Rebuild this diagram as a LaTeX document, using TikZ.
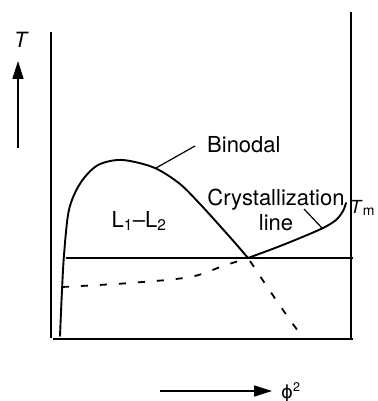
\documentclass[tikz,border=0pt]{standalone}
\usepackage{fontspec}
\setmainfont{TeX Gyre Heros}
\newfontfamily\dejavu{DejaVu Sans}
\usetikzlibrary{arrows.meta}
\begin{document}
\begin{tikzpicture}[x=1pt,y=-1pt,
  lbl/.style={font=\fontsize{22}{25}\selectfont, inner sep=0pt},
  curve/.style={line width=1.9pt, line join=round, line cap=round},
  axisline/.style={line width=1.5pt},
  level/.style={line width=2.4pt},
  dsh/.style={line width=1.8pt, dash pattern=on 7pt off 12pt},
  leader/.style={line width=1.2pt},
  bigarrow/.style={line width=1.5pt, -{Triangle[length=18pt,width=11pt]}}]
\useasboundingbox (0,0) rectangle (377,401);
% frame
\coordinate (lt) at (51,32);
\coordinate (lb) at (51,338);
\coordinate (rt) at (351,12);
\coordinate (rb) at (351,340);
\coordinate (bl) at (53,339);
\coordinate (br) at (353,339);
\coordinate (hl) at (66,258);
\coordinate (hr) at (353,258);
\coordinate (crit) at (248,258);
\draw[axisline] (lt) -- (lb);
\draw[axisline] (rt) -- (rb);
\draw[level] (bl) -- (br);
\draw[level] (hl) -- (hr);
% binodal
\draw[curve] plot[smooth, tension=0.55] coordinates {(60,336) (62,290) (64,255) (68,215) (74,195) (84,178) (98,165) (117,160) (135,162) (157,169) (180,184) (200,204) (220,226) (236,244) (248,258)};
% crystallization line
\draw[curve] plot[smooth, tension=0.55] coordinates {(248,258) (275,248) (300,238) (323,228) (336,220) (343,211) (346,203)};
% dashed curves
\draw[dsh] plot[smooth, tension=0.55] coordinates {(62,287) (130,283) (190,277) (223,266) (248,258)};
\draw[dsh] plot[smooth, tension=0.55] coordinates {(250,261) (258,273) (272,294) (290,320) (304,339)};
% labels
\node[lbl, anchor=base west] (bin) at (207,152) {Binodal};
\node[lbl, anchor=base] (cry1) at (276,205) {Crystallization};
\node[lbl, anchor=base] (cry2) at (276,230) {line};
\node[lbl, anchor=base] (l12) at (139,227) {L\textsubscript{1}–L\textsubscript{2}};
\node[lbl, anchor=base west, font=\fontsize{18}{20}\selectfont] (tm) at (350,213) {\textit{T}\raisebox{-2pt}{\fontsize{14}{16}\selectfont m}};
\node[lbl, anchor=base west, font=\fontsize{21}{24}\selectfont] (T) at (14,48) {\textit{T}};
\node[lbl, anchor=base west, font=\fontsize{18}{20}\selectfont] (phi) at (281,398) {{\dejavu ϕ}\textsuperscript{2}};
% leaders
\coordinate (bfoot) at (156,168);
\coordinate (bhead) at (195,146);
\draw[leader] (bfoot) -- (bhead);
\coordinate (lhead) at (304,209);
\coordinate (lfoot) at (322,228);
\draw[leader] (lhead) -- (lfoot);
% axis arrows
\coordinate (ta0) at (18,148);
\coordinate (ta1) at (18,61);
\draw[bigarrow] (ta0) -- (ta1);
\coordinate (pa0) at (160,391);
\coordinate (pa1) at (272,391);
\draw[bigarrow] (pa0) -- (pa1);
\end{tikzpicture}
\end{document}
